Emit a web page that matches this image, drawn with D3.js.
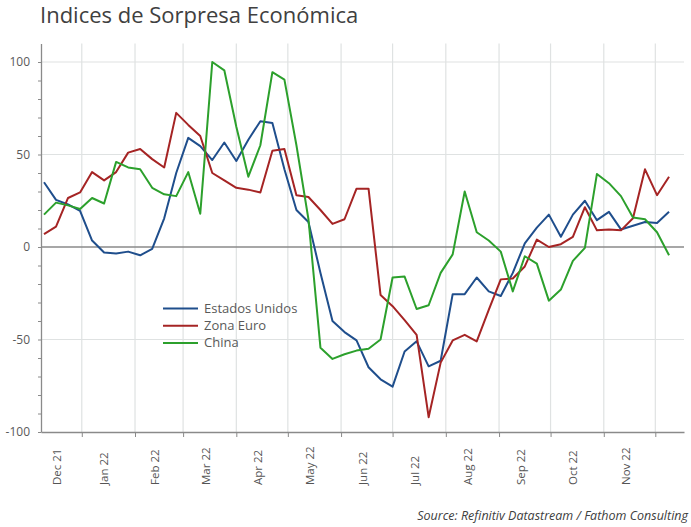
<!DOCTYPE html>
<html>
<head>
<meta charset="utf-8">
<script src="https://cdn.jsdelivr.net/npm/d3@7"></script>
<style>
  body { margin: 0; background: #fff; }
  text { font-family: 'Open Sans', sans-serif; }
</style>
</head>
<body>
<div id="chart"></div>
<script>
// Indices de Sorpresa Economica - weekly readings, Dec 2021 to Dec 2022

// Series (one value per week, first week ending Fri 10 Dec 2021)
var usValues = [35, 25.5, 23, 19.5, 3.5, -3, -3.5, -2.5, -4.5, -1,
  15.5, 40, 59, 54.5, 47, 56.5, 46.5, 58, 68, 67,
  42, 20, 13.5, -14, -40, -46, -50.5, -65, -71.5, -75.5,
  -56.5, -51, -64.5, -61.5, -25.5, -25.5, -16.5, -24, -26.5, -14,
  2, 10.5, 17.5, 5.5, 17.5, 25, 14.5, 19, 9.5, 11.5,
  13.5, 13, 19]
var euroValues = [7, 11, 26.5, 29.5, 40.5, 36, 40.5, 51, 53, 47.5,
  43, 72.5, 66, 60, 40, 36, 32, 31, 29.5, 52,
  53, 28, 27, 20, 12.5, 15, 31.5, 31.5, -26, -32,
  -39.5, -47.5, -92, -62.5, -50.5, -47.5, -51, -34, -17.5, -17,
  -10.5, 4, 0, 1.5, 5.5, 21.5, 9, 9.5, 9, 15.5,
  42, 28, 38]
var chinaValues = [17.5, 24, 22.5, 20.5, 26.5, 23.5, 46, 43, 42, 32,
  28.5, 27.5, 40.5, 18, 100, 95.5, 65, 38, 55, 94.5,
  90.5, 55, 15, -54.5, -60.5, -58, -56, -55, -50, -16.5,
  -16, -33.5, -31.5, -14, -4, 30, 8, 3.5, -2.5, -24,
  -5, -9, -29, -23, -7.5, -0.5, 39.5, 34.5, 27.5, 16,
  15, 8, -4.5]

var seriesNames = ['Estados Unidos', 'Zona Euro', 'China']
var seriesColors = ['#1f4e8c', '#a52424', '#2ca02c']

var monthLabels = ['Dec 21', 'Jan 22', 'Feb 22', 'Mar 22', 'Apr 22', 'May 22',
  'Jun 22', 'Jul 22', 'Aug 22', 'Sep 22', 'Oct 22', 'Nov 22']
var yLabels = [-100, -50, 0, 50, 100]

var width = 691
var height = 527
var plot = { left: 41, right: 684, top: 43.5, bottom: 432 }

var svg = d3.select('#chart')
  .append('svg')
  .attr('width', width)
  .attr('height', height)

// Weekly dates for the points
var firstWeek = new Date(2021, 11, 10)
var dates = usValues.map((d, i) => d3.timeDay.offset(firstWeek, 7 * i))

var x = d3.scaleTime()
  .domain([new Date(2021, 11, 8, 6), new Date(2022, 11, 17, 17)])
  .range([plot.left, plot.right])

var y = d3.scaleLinear()
  .domain([-100, 110])
  .range([plot.bottom, plot.top])

var monthStarts = d3.timeMonth.range(new Date(2022, 0, 1), new Date(2022, 11, 2))

// Gridlines
svg.append('g')
  .selectAll('line')
  .data(monthStarts)
  .join('line')
  .attr('x1', d => x(d))
  .attr('x2', d => x(d))
  .attr('y1', plot.top)
  .attr('y2', plot.bottom)
  .attr('stroke', '#dfe2e2')
  .attr('stroke-width', 1.2)

svg.append('g')
  .selectAll('line')
  .data(yLabels.filter(d => d !== 0 && d !== -100))
  .join('line')
  .attr('x1', plot.left)
  .attr('x2', plot.right)
  .attr('y1', d => y(d))
  .attr('y2', d => y(d))
  .attr('stroke', '#dfe2e2')
  .attr('stroke-width', 1.2)

// Zero line
svg.append('line')
  .attr('x1', plot.left)
  .attr('x2', plot.right)
  .attr('y1', y(0))
  .attr('y2', y(0))
  .attr('stroke', '#8a8a8a')
  .attr('stroke-width', 1.5)

// Y axis
var yAxis = svg.append('g')
  .attr('transform', `translate(${plot.left},0)`)
  .call(d3.axisLeft(y)
    .tickValues(d3.range(-100, 101, 10))
    .tickSizeInner(3)
    .tickSizeOuter(0)
    .tickPadding(8)
    .tickFormat(d => yLabels.includes(d) ? d : ''))
yAxis.select('.domain').attr('stroke', '#8a8a8a').attr('stroke-width', 1.3)
yAxis.selectAll('.tick line').attr('stroke', '#8a8a8a')
yAxis.selectAll('text')
  .attr('fill', '#595959')
  .style('font-size', '12px')
  .style('font-family', "'Open Sans', sans-serif")

// X axis
var xAxis = svg.append('g')
  .attr('transform', `translate(0,${plot.bottom})`)
  .call(d3.axisBottom(x)
    .tickValues(monthStarts)
    .tickSizeInner(5)
    .tickSizeOuter(0)
    .tickFormat(''))
xAxis.select('.domain').attr('stroke', '#8a8a8a').attr('stroke-width', 1.5)
xAxis.selectAll('.tick line').attr('stroke', '#8a8a8a')

// Month labels, centred in each month
var labelMonths = d3.timeMonth.range(new Date(2021, 11, 1), new Date(2022, 11, 1))
svg.append('g')
  .selectAll('text')
  .data(labelMonths)
  .join('text')
  .attr('transform', (d, i) => {
    var a = Math.max(x(d), plot.left)
    var b = x(d3.timeMonth.offset(d, 1))
    return `translate(${(a + b) / 2},485) rotate(-90)`
  })
  .attr('text-anchor', 'start')
  .attr('fill', '#555555')
  .style('font-size', '11.5px')
  .text((d, i) => monthLabels[i])

// Lines
var line = d3.line()
  .x((d, i) => x(dates[i]))
  .y(d => y(d))

var allSeries = [usValues, euroValues, chinaValues]
svg.append('g')
  .selectAll('path')
  .data(allSeries)
  .join('path')
  .attr('d', d => line(d))
  .attr('fill', 'none')
  .attr('stroke', (d, i) => seriesColors[i])
  .attr('stroke-width', 2)
  .attr('stroke-linejoin', 'round')

// Legend
var legend = svg.append('g')
  .selectAll('g')
  .data(seriesNames)
  .join('g')
  .attr('transform', (d, i) => `translate(163,${308.5 + i * 17.2})`)
legend.append('line')
  .attr('x1', 0)
  .attr('x2', 35)
  .attr('stroke', (d, i) => seriesColors[i])
  .attr('stroke-width', 2)
legend.append('text')
  .attr('x', 41)
  .attr('dy', '0.35em')
  .attr('fill', '#595959')
  .style('font-size', '13px')
  .text(d => d)

// Title
svg.append('text')
  .text('Indices de Sorpresa Económica')
  .attr('x', 40)
  .attr('y', 23)
  .attr('fill', '#404040')
  .style('font-size', '22px')

// Source
svg.append('text')
  .text('Source: Refinitiv Datastream / Fathom Consulting')
  .attr('x', 688)
  .attr('y', 520)
  .attr('text-anchor', 'end')
  .attr('fill', '#404040')
  .style('font-size', '12.5px')
  .style('font-style', 'italic')
</script>
</body>
</html>
